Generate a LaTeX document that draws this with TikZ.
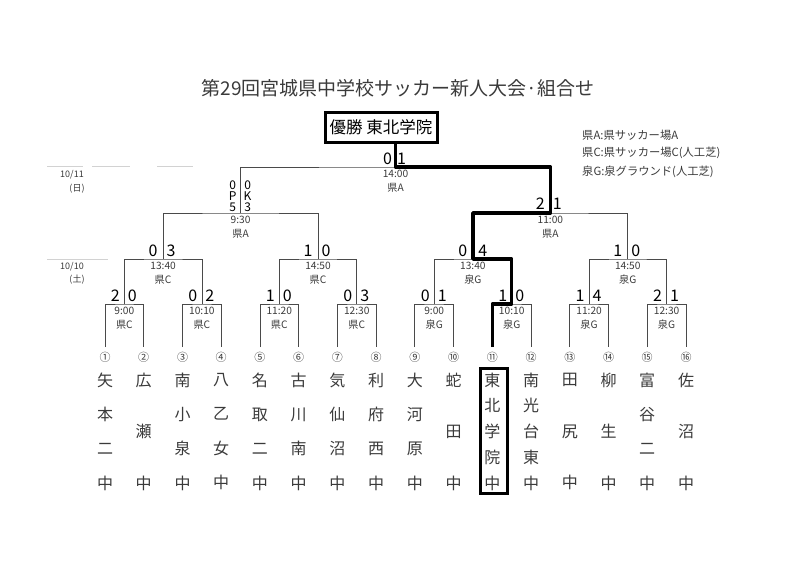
\documentclass[tikz,border=0pt]{standalone}
\usepackage{fontspec}
\setmainfont{Noto Sans CJK JP}
\usetikzlibrary{positioning, calc}
\definecolor{ink}{HTML}{3A3A3A}
\definecolor{bracketgray}{HTML}{4A4A4A}

\begin{document}
\begin{tikzpicture}[
    x=1pt, y=-1pt,
    % Styles
    base/.style={inner sep=0pt, text=ink},
    title/.style={base, font=\fontsize{19}{22}\selectfont},
    legend/.style={base, anchor=west, font=\fontsize{11.3}{12}\selectfont},
    date/.style={base, font=\fontsize{9}{11}\selectfont},
    slot/.style={base, align=center, font=\fontsize{10.2}{14}\selectfont},
    score/.style={base, text=black, font=\fontsize{16}{18}\selectfont},
    pk/.style={base, text=black, align=center, font=\fontsize{12}{11}\selectfont},
    num/.style={base, font=\fontsize{11}{12}\selectfont},
    team/.style={base, align=center, font=\fontsize{16}{#1}\selectfont},
    champ/.style={draw, line width=3pt, minimum width=112pt, minimum height=30pt, text=black, font=\fontsize{16.5}{18}\selectfont},
    bracket/.style={draw=bracketgray, line width=0.8pt},
    win/.style={draw=black, line width=3.5pt, line join=round},
    rule/.style={draw=gray!35, line width=0.6pt}
]
    \useasboundingbox (0,0) rectangle (800,566);

    % --- Header ---
    \node [title] (title) at (398,88) {第29回宮城県中学校サッカー新人大会·組合せ};
    \node [legend] (legA) at (582,135) {県A:県サッカー場A};
    \node [legend] (legC) at (582,153) {県C:県サッカー場C(人工芝)};
    \node [legend] (legG) at (582,172) {泉G:泉グラウンド(人工芝)};

    % --- Dates ---
    \draw [rule] (47,166) -- (83,166);
    \draw [rule] (92,166) -- (130,166);
    \draw [rule] (157,166) -- (193,166);
    \draw [rule] (47,259) -- (108,259);
    \node [date] (day2) at (72,175) {10/11};
    \node [date] (day2w) at (77,189) {(日)};
    \node [date] (day1) at (72,267) {10/10};
    \node [date] (day1w) at (77,280) {(土)};

    % --- Leaves ---
    \coordinate (t1) at (105,347);
    \coordinate (t2) at (143.7,347);
    \coordinate (t3) at (182.5,347);
    \coordinate (t4) at (221.2,347);
    \coordinate (t5) at (259.9,347);
    \coordinate (t6) at (298.7,347);
    \coordinate (t7) at (337.4,347);
    \coordinate (t8) at (376.1,347);
    \coordinate (t9) at (414.8,347);
    \coordinate (t10) at (453.6,347);
    \coordinate (t11) at (492.3,347);
    \coordinate (t12) at (531,347);
    \coordinate (t13) at (569.8,347);
    \coordinate (t14) at (608.5,347);
    \coordinate (t15) at (647.2,347);
    \coordinate (t16) at (686,347);

    % --- Match points ---
    \coordinate (r1) at (124.4,304);
    \coordinate (r2) at (201.9,304);
    \coordinate (r3) at (279.3,304);
    \coordinate (r4) at (356.8,304);
    \coordinate (r5) at (434.2,304);
    \coordinate (r6) at (511.7,304);
    \coordinate (r7) at (589.1,304);
    \coordinate (r8) at (666.6,304);
    \coordinate (q1) at (163.1,259);
    \coordinate (q2) at (318,259);
    \coordinate (q3) at (472.9,259);
    \coordinate (q4) at (627.8,259);
    \coordinate (s1) at (240.6,213);
    \coordinate (s2) at (550.4,213);
    \coordinate (f) at (395.5,167);

    % --- Brackets ---
    \draw [bracket] (t1) |- (r1) -| (t2);
    \draw [bracket] (t3) |- (r2) -| (t4);
    \draw [bracket] (t5) |- (r3) -| (t6);
    \draw [bracket] (t7) |- (r4) -| (t8);
    \draw [bracket] (t9) |- (r5) -| (t10);
    \draw [bracket] (t11) |- (r6) -| (t12);
    \draw [bracket] (t13) |- (r7) -| (t14);
    \draw [bracket] (t15) |- (r8) -| (t16);
    \draw [bracket] (r1) |- (q1) -| (r2);
    \draw [bracket] (r3) |- (q2) -| (r4);
    \draw [bracket] (r5) |- (q3) -| (r6);
    \draw [bracket] (r7) |- (q4) -| (r8);
    \draw [bracket] (q1) |- (s1) -| (q2);
    \draw [bracket] (q3) |- (s2) -| (q4);
    \draw [bracket] (s1) |- (f) -| (s2);

    % --- Champion ---
    \node [champ] (champ) at (381,127.5) {優勝 東北学院};
    \draw [win] (t11) |- (r6) |- (q3) |- (s2) |- (f) -- (f |- champ.south);

    % --- Times / venues ---
    \node [slot] (r1s) at ($(r1)+(0,14)$) {9:00\\県C};
    \node [slot] (r2s) at ($(r2)+(0,14)$) {10:10\\県C};
    \node [slot] (r3s) at ($(r3)+(0,14)$) {11:20\\県C};
    \node [slot] (r4s) at ($(r4)+(0,14)$) {12:30\\県C};
    \node [slot] (r5s) at ($(r5)+(0,14)$) {9:00\\泉G};
    \node [slot] (r6s) at ($(r6)+(0,14)$) {10:10\\泉G};
    \node [slot] (r7s) at ($(r7)+(0,14)$) {11:20\\泉G};
    \node [slot] (r8s) at ($(r8)+(0,14)$) {12:30\\泉G};
    \node [slot] (q1s) at ($(q1)+(0,14)$) {13:40\\県C};
    \node [slot] (q2s) at ($(q2)+(0,14)$) {14:50\\県C};
    \node [slot] (q3s) at ($(q3)+(0,14)$) {13:40\\泉G};
    \node [slot] (q4s) at ($(q4)+(0,14)$) {14:50\\泉G};
    \node [slot] (s1s) at ($(s1)+(0,14)$) {9:30\\県A};
    \node [slot] (s2s) at ($(s2)+(0,14)$) {11:00\\県A};
    \node [slot] (fs) at ($(f)+(0,14)$) {14:00\\県A};

    % --- Scores ---
    \node [score] (r1a) at ($(r1)+(-9,-8)$) {2};
    \node [score] (r1b) at ($(r1)+(8,-8)$) {0};
    \node [score] (r2a) at ($(r2)+(-9,-8)$) {0};
    \node [score] (r2b) at ($(r2)+(8,-8)$) {2};
    \node [score] (r3a) at ($(r3)+(-9,-8)$) {1};
    \node [score] (r3b) at ($(r3)+(8,-8)$) {0};
    \node [score] (r4a) at ($(r4)+(-9,-8)$) {0};
    \node [score] (r4b) at ($(r4)+(8,-8)$) {3};
    \node [score] (r5a) at ($(r5)+(-9,-8)$) {0};
    \node [score] (r5b) at ($(r5)+(8,-8)$) {1};
    \node [score] (r6a) at ($(r6)+(-9,-8)$) {1};
    \node [score] (r6b) at ($(r6)+(8,-8)$) {0};
    \node [score] (r7a) at ($(r7)+(-9,-8)$) {1};
    \node [score] (r7b) at ($(r7)+(8,-8)$) {4};
    \node [score] (r8a) at ($(r8)+(-9,-8)$) {2};
    \node [score] (r8b) at ($(r8)+(8,-8)$) {1};
    \node [score] (q1a) at ($(q1)+(-10,-8)$) {0};
    \node [score] (q1b) at ($(q1)+(8,-8)$) {3};
    \node [score] (q2a) at ($(q2)+(-10,-8)$) {1};
    \node [score] (q2b) at ($(q2)+(8,-8)$) {0};
    \node [score] (q3a) at ($(q3)+(-10,-8)$) {0};
    \node [score] (q3b) at ($(q3)+(10,-8)$) {4};
    \node [score] (q4a) at ($(q4)+(-10,-8)$) {1};
    \node [score] (q4b) at ($(q4)+(8,-8)$) {0};
    \node [pk] (s1a) at ($(s1)+(-8,-17)$) {0\\P\\5};
    \node [pk] (s1b) at ($(s1)+(7,-17)$) {0\\K\\3};
    \node [score] (s2a) at ($(s2)+(-10,-9)$) {2};
    \node [score] (s2b) at ($(s2)+(7,-9)$) {1};
    \node [score] (fa) at ($(f)+(-8,-8)$) {0};
    \node [score] (fb) at ($(f)+(6,-8)$) {1};

    % --- Numbers ---
    \node [num] (n1) at (105,357) {①};
    \node [num] (n2) at (143.7,357) {②};
    \node [num] (n3) at (182.5,357) {③};
    \node [num] (n4) at (221.2,357) {④};
    \node [num] (n5) at (259.9,357) {⑤};
    \node [num] (n6) at (298.7,357) {⑥};
    \node [num] (n7) at (337.4,357) {⑦};
    \node [num] (n8) at (376.1,357) {⑧};
    \node [num] (n9) at (414.8,357) {⑨};
    \node [num] (n10) at (453.6,357) {⑩};
    \node [num] (n11) at (492.3,357) {⑪};
    \node [num] (n12) at (531,357) {⑫};
    \node [num] (n13) at (569.8,357) {⑬};
    \node [num] (n14) at (608.5,357) {⑭};
    \node [num] (n15) at (647.2,357) {⑮};
    \node [num] (n16) at (686,357) {⑯};

    % --- Teams ---
    \node [team=34.33] (c1) at (105,431.5) {矢\\本\\二\\中};
    \node [team=51.5] (c2) at (143.7,431.5) {広\\瀬\\中};
    \node [team=34.33] (c3) at (182.5,431.5) {南\\小\\泉\\中};
    \node [team=34.33] (c4) at (221.2,431.5) {八\\乙\\女\\中};
    \node [team=34.33] (c5) at (259.9,431.5) {名\\取\\二\\中};
    \node [team=34.33] (c6) at (298.7,431.5) {古\\川\\南\\中};
    \node [team=34.33] (c7) at (337.4,431.5) {気\\仙\\沼\\中};
    \node [team=34.33] (c8) at (376.1,431.5) {利\\府\\西\\中};
    \node [team=34.33] (c9) at (414.8,431.5) {大\\河\\原\\中};
    \node [team=51.5] (c10) at (453.6,431.5) {蛇\\田\\中};
    \node [team=25.75] (c11) at (492.3,431.5) {東\\北\\学\\院\\中};
    \node [team=25.75] (c12) at (531,431.5) {南\\光\\台\\東\\中};
    \node [team=51.5] (c13) at (569.8,431.5) {田\\尻\\中};
    \node [team=51.5] (c14) at (608.5,431.5) {柳\\生\\中};
    \node [team=34.33] (c15) at (647.2,431.5) {富\\谷\\二\\中};
    \node [team=51.5] (c16) at (686,431.5) {佐\\沼\\中};
    \node [draw, line width=3pt, minimum width=27pt, minimum height=125pt] (wbox) at (493.5,430.5) {};

\end{tikzpicture}
\end{document}
